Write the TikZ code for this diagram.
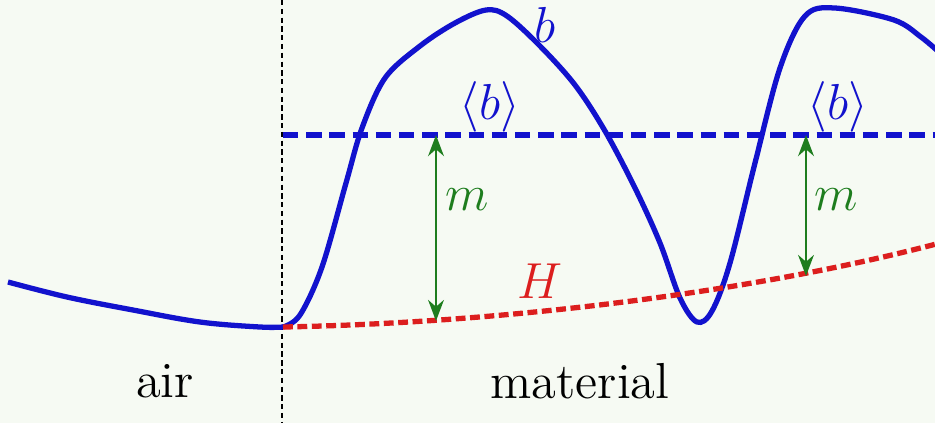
\documentclass[tikz,border=0pt]{standalone}
\usepackage{amsmath, amssymb}
\usepackage{tikz}
\usetikzlibrary{arrows.meta,positioning,calc}

\definecolor{bgtint}{RGB}{246,250,243}
\definecolor{bcurve}{RGB}{18,18,205}
\definecolor{hcurve}{RGB}{220,30,30}
\definecolor{mgreen}{RGB}{30,125,30}

\begin{document}
\begin{tikzpicture}[
    font=\fontsize{14.4}{16}\selectfont,
    bline/.style={bcurve, line width=1.5pt, line join=round},
    bmean/.style={bcurve, line width=1.5pt, dash pattern=on 4.4pt off 2.2pt},
    hline/.style={hcurve, line width=1.5pt, dash pattern=on 2.8pt off 1.3pt},
    iface/.style={black, line width=0.6pt, dash pattern=on 1.5pt off 1pt},
    marrow/.style={{Stealth[length=6pt,width=4.5pt]}-{Stealth[length=6pt,width=4.5pt]}, mgreen, line width=0.6pt},
    lbl/.style={inner sep=1pt}
]

% Background and bounding box
\fill[bgtint] (0,0) rectangle (9.35,4.23);
\useasboundingbox (0,0) rectangle (9.35,4.23);

% Interface between air and material
\coordinate (itop) at (2.82,4.23);
\coordinate (ibot) at (2.82,0);
\draw[iface] (itop) -- (ibot);

% Surface profile b
\draw[bline] plot[smooth, tension=0.6] coordinates {
    (0.08,1.41) (0.67,1.26) (1.33,1.13) (2.0,1.01) (2.6,0.96) (2.83,0.96)};
\draw[bline] plot[smooth, tension=0.55] coordinates {
    (2.83,0.96) (3.0,1.08) (3.22,1.56) (3.46,2.40) (3.62,2.95) (3.85,3.45)
    (4.2,3.77) (4.55,4.0) (4.86,4.13) (5.07,4.07) (5.4,3.77) (5.75,3.38)
    (6.05,2.92) (6.35,2.35) (6.6,1.8) (6.8,1.25) (6.97,1.01) (7.12,1.12)
    (7.3,1.6) (7.55,2.6) (7.8,3.55) (8.05,4.07) (8.35,4.15) (8.94,4.03)
    (9.21,3.86) (9.4,3.7)};

% Mean line <b>
\coordinate (mstart) at (2.83,2.88);
\coordinate (mend) at (9.4,2.88);
\draw[bmean] (mstart) -- (mend);

% Hardness profile H
\coordinate (hstart) at (2.83,0.96);
\coordinate (hend) at (9.4,1.80);
\draw[hline] (hstart) .. controls (5,1.0) and (7.5,1.3) .. (hend);

% m arrows
\coordinate (mtop1) at (4.36,2.88);
\coordinate (mbot1) at (4.36,1.02);
\coordinate (mtop2) at (8.06,2.88);
\coordinate (mbot2) at (8.06,1.47);
\draw[marrow] (mtop1) -- (mbot1);
\draw[marrow] (mtop2) -- (mbot2);

% Labels
\node[lbl, bcurve] (blabel) at (5.45,3.98) {$b$};
\node[lbl, bcurve] (mean1) at (4.9,3.16) {$\langle b\rangle$};
\node[lbl, bcurve] (mean2) at (8.38,3.16) {$\langle b\rangle$};
\node[lbl, mgreen] (m1) at (4.67,2.23) {$m$};
\node[lbl, mgreen] (m2) at (8.36,2.23) {$m$};
\node[lbl, hcurve] (hlabel) at (5.40,1.42) {$H$};
\node[lbl] (air) at (1.65,0.42) {air};
\node[lbl] (material) at (5.8,0.42) {material};

\end{tikzpicture}
\end{document}
